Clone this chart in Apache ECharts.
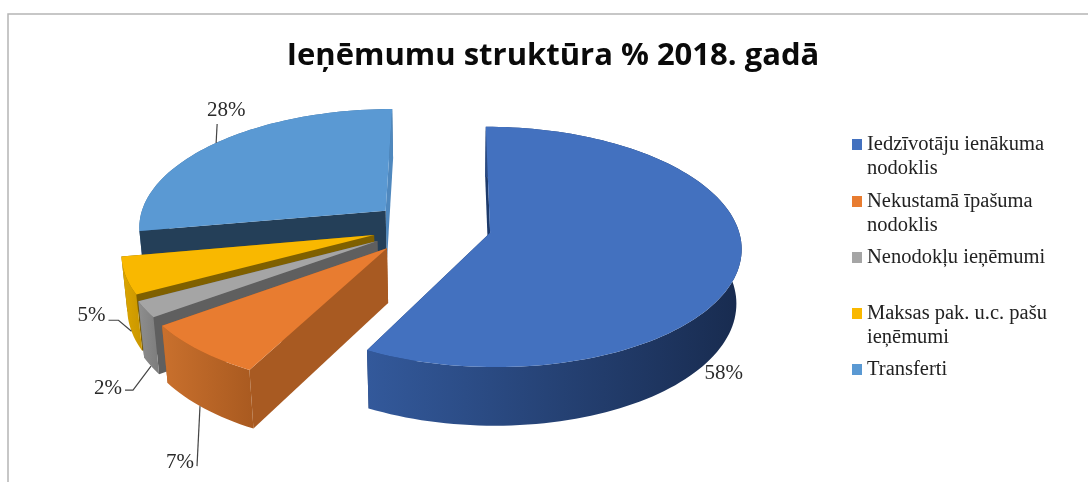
<!DOCTYPE html>
<html><head><meta charset="utf-8">
<style>html,body{margin:0;padding:0;background:#fff}#c{width:1088px;height:482px}</style>
<script src="https://cdn.jsdelivr.net/npm/echarts@6/dist/echarts.min.js"></script>
</head><body><div id="c"></div>
<script>
// ---- data ----
const titleText = 'Ieņēmumu struktūra % 2018. gadā';
const categories = ['Iedzīvotāju ienākuma nodoklis','Nekustamā īpašuma nodoklis','Nenodokļu ieņēmumi','Maksas pak. u.c. pašu ieņēmumi','Transferti'];
const values = [57.6, 7.4, 2.2, 5.0, 27.8];
// ---- styles ----
const legendLines = [['Iedzīvotāju ienākuma','nodoklis'],['Nekustamā īpašuma','nodoklis'],['Nenodokļu ieņēmumi'],['Maksas pak. u.c. pašu','ieņēmumi'],['Transferti']];
const legendTops = [132.5,189.5,245.5,301.5,357.5];
const topColors = ['#4371BF','#E87C30','#A5A5A5','#F9B800','#5A99D3'];
const wallLeft = ['#33599B','#C9702D','#8E8E8E','#DDA600','#3F6F9C'];
const wallRight = ['#182B4F','#A95A20','#7C7C7C','#C99600','#3F6F9C'];
const startFace = ['#1D3A6B','#A85A22','#5F5F5F','#7F6000','#243F58'];
const endFace = ['#1D3A6B','#A85A22','#5F5F5F','#7F6000','#4F88BE'];
const paintOrder = [5,4,3,2,1];
const explode = [[0.165,-0.04],[-0.245,-0.17],[-0.285,-0.11],[-0.30,-0.06],[-0.26,0.15]];
// leader: rim fraction within slice, z of anchor, then offsets from the anchor; label offset
const leaders = [
  {f:0.62,z:1,pts:[],label:[25,4]},
  {f:0.55,z:1,pts:[[-3,60]],label:[-20,56]},
  {f:0.5,z:1,pts:[[-18,24],[-26,24]],label:[-43,22]},
  {f:0.5,z:1,pts:[[-13,-11],[-23,-11]],label:[-40,-16]},
  {f:0.5,z:0,pts:[[1,-19]],label:[10,-32]}
];
// projection
const P = {x0:449,y0:228,A:117.4,B:248,k:0.1176,C:55,m:0.018};
function project(wx,wy,z){
  const w = 1+P.k*wy+P.m*z;
  return [P.x0+P.B*wx/w, P.y0+(-P.A*wy+P.C*z)/w];
}
const total = values.reduce((a,b)=>a+b,0);
const starts = []; values.reduce((a,v,i)=>{starts[i]=a;return a+v/total*Math.PI*2;},0);

function makeRender(i){
  return function(params,api){
    const v = api.value(0);
    const a0 = starts[i], a1 = a0+v/total*Math.PI*2, mid=(a0+a1)/2;
    const ex = explode[i][0], ey = explode[i][1];
    const rim = (a,z)=>project(ex+Math.sin(a),ey+Math.cos(a),z);
    const apex = z=>project(ex,ey,z);
    const n = Math.max(6,Math.ceil((a1-a0)/0.03));
    const arcTop=[],arcBot=[];
    for(let j=0;j<=n;j++){const a=a0+(a1-a0)*j/n;arcTop.push(rim(a,0));arcBot.push(rim(a,1));}
    const poly=(points,fill)=>({type:'polygon',shape:{points},style:{fill}});
    const L=leaders[i];
    const anchor=rim(a0+(a1-a0)*L.f,L.z);
    const faces=[
      poly([apex(0),rim(a1,0),rim(a1,1),apex(1)],endFace[i]),
      poly([apex(0),rim(a0,0),rim(a0,1),apex(1)],startFace[i])
    ];
    const wall={type:'polygon',shape:{points:arcTop.concat(arcBot.slice().reverse())},
       style:{fill:new echarts.graphic.LinearGradient(0,0,1,0,[{offset:0,color:wallLeft[i]},{offset:1,color:wallRight[i]}])}};
    // a rim that faces away from the viewer lies behind the cut faces
    const children=(Math.cos(mid)>0?[wall].concat(faces):faces.concat([wall]));
    children.push(poly([apex(0)].concat(arcTop),topColors[i]));
    if(L.pts.length){
      children.push({type:'polyline',shape:{points:[anchor].concat(L.pts.map(p=>[anchor[0]+p[0],anchor[1]+p[1]]))},style:{stroke:'#444',lineWidth:1.2,fill:null}});
    }
    children.push({type:'text',style:{text:Math.round(v)+'%',x:anchor[0]+L.label[0],y:anchor[1]+L.label[1],align:'center',verticalAlign:'middle',fill:'#2a2a2a',font:'21px "Liberation Serif"'}});
    return {type:'group',children};
  };
}

const chart = echarts.init(document.getElementById('c'),null,{renderer:'canvas'});
chart.setOption({
  animation:false,
  backgroundColor:'#fff',
  title:{text:titleText,left:548,top:36,textAlign:'center',textStyle:{fontFamily:'"Open Sans"',fontWeight:'bold',fontSize:31,color:'#0a0a0a'}},
  tooltip:{show:false},
  legend:categories.map((name,i)=>{
    const h=legendLines[i].length*24;
    return {
      data:[name],left:852,top:legendTops[i],orient:'vertical',padding:0,selectedMode:false,
      itemWidth:10,itemHeight:h,symbolKeepAspect:false,
      icon:'path://M0 0L0 0M0 6.5L10 6.5L10 17.5L0 17.5ZM10 '+h+'L10 '+h,
      formatter:()=>legendLines[i].join('\n'),
      textStyle:{fontFamily:'"Liberation Serif"',fontSize:20.5,lineHeight:24,color:'#222'}
    };
  }),
  graphic:[{type:'polyline',shape:{points:[[8,482],[8,14],[1088,14]]},style:{stroke:'#b5b5b5',lineWidth:1.5,fill:null},silent:true}],
  series:categories.map((name,i)=>({
    type:'custom',name,coordinateSystem:'none',z:paintOrder[i]+1,
    itemStyle:{color:topColors[i]},
    data:[[values[i]]],
    renderItem:makeRender(i)
  }))
});
</script></body></html>
